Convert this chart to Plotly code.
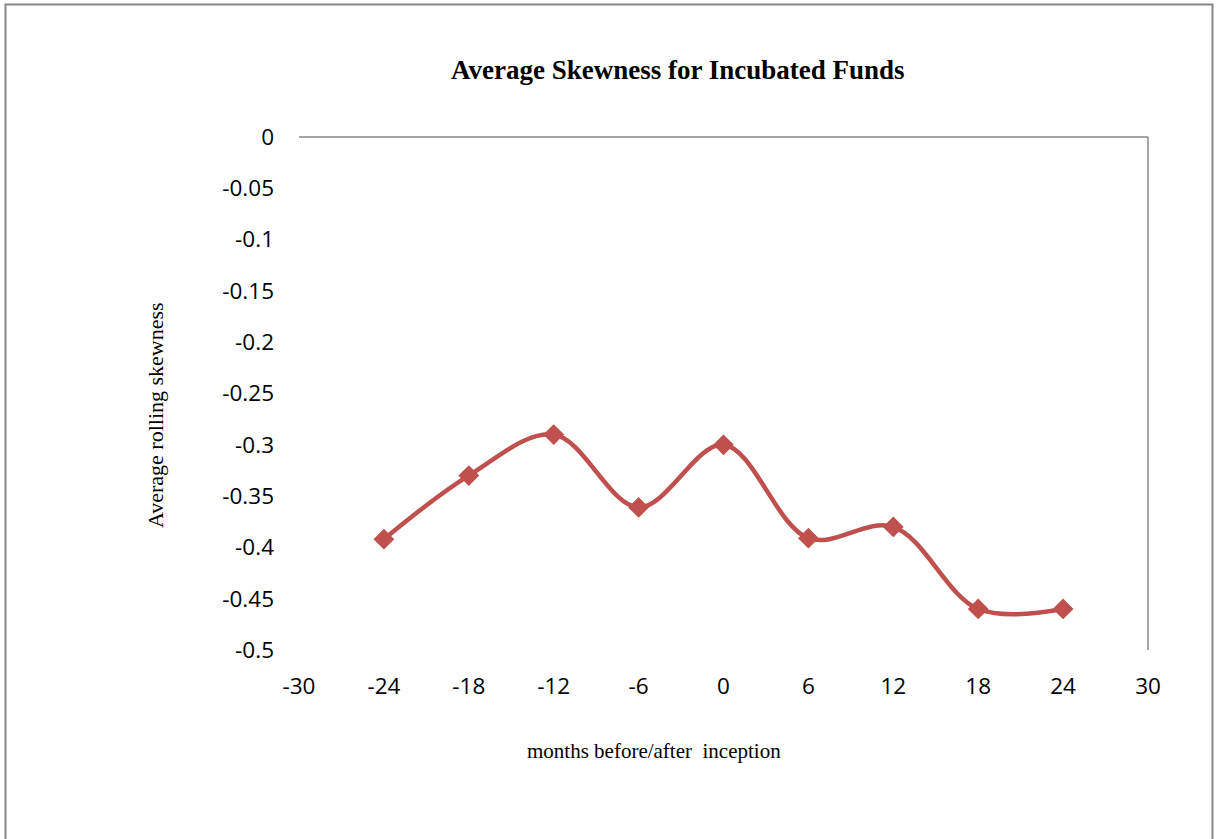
import plotly.graph_objects as go

months = [-24, -18, -12, -6, 0, 6, 12, 18, 24]
skewness = [-0.392, -0.330, -0.290, -0.361, -0.300, -0.391, -0.380, -0.460, -0.460]

x_ticks = [-30, -24, -18, -12, -6, 0, 6, 12, 18, 24, 30]
y_ticks = [0, -0.05, -0.1, -0.15, -0.2, -0.25, -0.3, -0.35, -0.4, -0.45, -0.5]
y_tick_labels = ["0", "-0.05", "-0.1", "-0.15", "-0.2", "-0.25", "-0.3", "-0.35", "-0.4", "-0.45", "-0.5"]

title_text = "Average Skewness for Incubated Funds"
x_title = "months before/after&nbsp;&nbsp;inception"
y_title = "Average rolling skewness"

color = "#C0504D"
tick_font = dict(family="'Open Sans', Lato, sans-serif", size=22.5, color="#000000")
serif = "'Liberation Serif', 'Times New Roman', serif"

fig = go.Figure()
fig.add_trace(go.Scatter(
    x=months, y=skewness, mode="lines+markers",
    line=dict(color=color, width=4.5, shape="spline", smoothing=1.0),
    marker=dict(symbol="diamond", size=16, color=color),
    showlegend=False, hoverinfo="x+y",
))

L, R, T, B = 299, 68, 137, 189
W, H = 1216, 839
pw = W - L - R
ph = H - T - B

def px(xp):
    return (xp - L) / pw

def py(yp):
    return (H - B - yp) / ph

fig.update_layout(
    width=W, height=H,
    margin=dict(l=L, r=R, t=T, b=B),
    paper_bgcolor="white", plot_bgcolor="white",
    xaxis=dict(range=[-30, 30], tickvals=x_ticks, ticktext=[str(v) for v in x_ticks],
               showgrid=False, zeroline=False, showline=False, ticks="",
               tickfont=tick_font, ticklabelstandoff=20, fixedrange=True),
    yaxis=dict(range=[-0.5, 0], tickvals=y_ticks, ticktext=y_tick_labels,
               showgrid=False, zeroline=False, showline=False, ticks="",
               tickfont=tick_font, ticklabelstandoff=24, fixedrange=True),
    shapes=[
        # horizontal axis line at y = 0 (top)
        dict(type="line", xref="paper", yref="paper", x0=0, x1=1, y0=1, y1=1,
             line=dict(color="#868686", width=1.5)),
        # vertical axis line at right
        dict(type="line", xref="paper", yref="paper", x0=1, x1=1, y0=0, y1=1,
             line=dict(color="#868686", width=1.5)),
        # outer chart frame
        dict(type="rect", xref="paper", yref="paper",
             x0=px(5.5), x1=px(1212.5), y0=py(860), y1=py(4.5),
             line=dict(color="#878787", width=2), fillcolor="rgba(0,0,0,0)", layer="below"),
    ],
    annotations=[
        dict(text="<b>" + title_text + "</b>", xref="paper", yref="paper",
             x=px(678), y=py(70), showarrow=False,
             font=dict(family=serif, size=27, color="#000000"),
             xanchor="center", yanchor="middle"),
        dict(text=x_title, xref="paper", yref="paper",
             x=px(654), y=py(751), showarrow=False,
             font=dict(family=serif, size=21, color="#000000"),
             xanchor="center", yanchor="middle"),
        dict(text=y_title, xref="paper", yref="paper",
             x=px(155), y=py(415), showarrow=False, textangle=-90,
             font=dict(family=serif, size=22, color="#000000"),
             xanchor="center", yanchor="middle"),
    ],
)

fig.write_html("out.html")
